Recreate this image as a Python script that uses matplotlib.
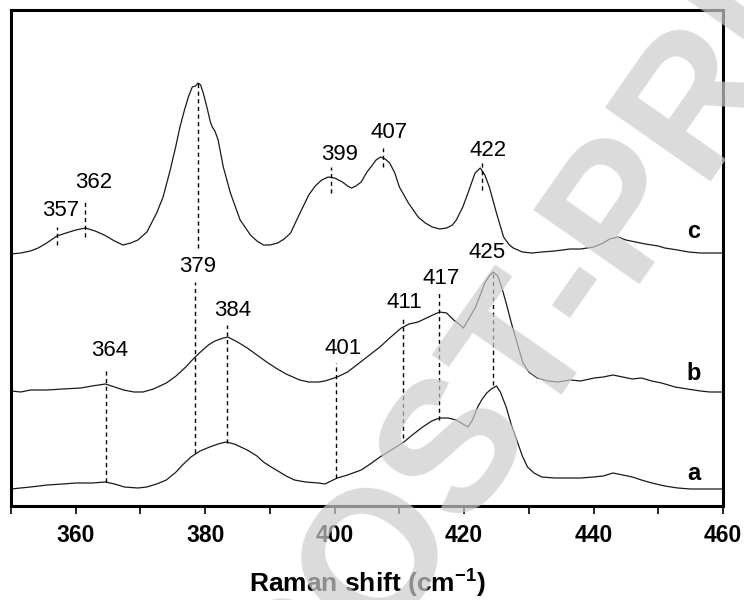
import matplotlib
matplotlib.use('Agg')
import matplotlib.pyplot as plt
from matplotlib.ticker import MultipleLocator

plt.rcParams['font.family'] = ['Liberation Sans', 'DejaVu Sans']
plt.rcParams['mathtext.fontset'] = 'custom'
plt.rcParams['mathtext.rm'] = 'Liberation Sans'
plt.rcParams['mathtext.bf'] = 'Liberation Sans:bold'

# spectrum c (top)
shift_c = [350.0, 351.5, 353.0, 354.2, 355.5, 357.1, 358.5, 360.0, 361.5, 363.0,
           364.4, 366.0, 367.3, 368.5, 369.6, 371.0, 372.5, 373.5, 374.6, 375.4,
           376.1, 376.8, 377.4, 378.0, 378.5, 378.9, 379.3, 379.7, 380.3, 380.8,
           381.1, 381.5, 382.0, 382.8, 383.9, 385.4, 387.0, 388.0, 389.0, 390.0,
           391.2, 392.2, 393.2, 394.5, 396.0, 397.0, 398.0, 399.0, 400.0, 401.2,
           402.0, 402.6, 403.3, 404.1, 405.0, 405.6, 406.4, 407.1, 407.8, 408.5,
           409.3, 410.0, 411.4, 412.9, 414.0, 415.1, 416.2, 417.3, 418.2, 418.8,
           419.8, 420.6, 421.2, 421.7, 422.5, 423.2, 423.9, 425.0, 426.1, 427.0,
           427.6, 429.0, 430.5, 432.0, 434.0, 436.4, 438.0, 440.0, 441.5, 442.5,
           443.8, 445.0, 446.5, 448.0, 450.0, 451.0, 453.0, 454.7, 456.5, 458.0,
           460.0]
int_c = [252, 253, 255, 258, 263, 270, 273, 276, 278, 275,
         271, 265, 261, 263, 266, 274, 293, 309, 336, 358,
         379, 396, 409, 419, 420, 423, 421, 413, 398, 384,
         379, 375, 366, 339, 313, 286, 271, 265, 261, 261,
         263, 267, 273, 291, 311, 320, 326, 329, 328, 324,
         320, 318, 320, 324, 334, 339, 346, 349, 347, 343,
         333, 319, 303, 289, 283, 279, 277, 278, 281, 286,
         299, 313, 324, 333, 338, 331, 319, 293, 269, 261,
         258, 254, 253, 254, 255, 257, 257, 259, 263, 267,
         269, 266, 264, 262, 260, 258, 256, 254, 253, 253,
         253]

# spectrum b (middle)
shift_b = [350.0, 351.5, 353.0, 355.6, 358.0, 360.8, 362.5, 364.6, 366.0, 367.4,
           369.0, 370.4, 372.0, 374.0, 375.5, 377.0, 378.0, 379.1, 380.5, 381.5,
           382.8, 383.5, 385.0, 386.5, 388.0, 389.5, 390.9, 392.5, 394.6, 396.0,
           397.5, 398.5, 400.4, 402.0, 403.4, 405.0, 407.0, 408.5, 410.3, 411.5,
           412.9, 414.5, 416.2, 417.3, 418.4, 419.2, 419.9, 420.8, 421.7, 422.5,
           423.2, 424.0, 424.5, 425.2, 425.8, 426.5, 427.3, 428.2, 429.1, 430.0,
           431.3, 433.0, 434.5, 436.4, 438.0, 440.1, 441.5, 443.0, 444.5, 446.0,
           447.4, 449.0, 450.5, 452.6, 454.5, 456.5, 458.0, 460.0]
int_b = [115, 114, 116, 116, 117, 118, 120, 122, 119, 116,
         114, 114, 117, 123, 130, 139, 146, 153, 161, 165,
         168, 169, 164, 158, 151, 144, 138, 132, 126, 124,
         124, 125, 129, 134, 141, 149, 159, 168, 178, 182,
         184, 189, 194, 193, 186, 182, 178, 188, 198, 211,
         223, 231, 234, 230, 219, 203, 183, 163, 143, 134,
         128, 125, 124, 126, 125, 128, 129, 131, 129, 127,
         128, 125, 123, 119, 117, 115, 114, 114]

# spectrum a (bottom)
shift_a = [350.0, 351.5, 353.0, 355.6, 358.0, 360.0, 362.5, 364.6, 366.0, 367.5,
           369.6, 371.0, 372.5, 374.0, 375.5, 376.5, 377.8, 379.2, 380.7, 382.0,
           383.2, 384.5, 385.5, 386.5, 388.0, 389.0, 390.2, 391.5, 392.5, 393.8,
           395.5, 397.5, 398.5, 400.4, 402.0, 404.1, 405.5, 407.0, 408.5, 410.7,
           412.0, 413.6, 415.0, 416.2, 417.5, 418.8, 419.8, 420.6, 421.3, 422.1,
           422.8, 423.5, 424.2, 425.0, 425.6, 426.5, 427.3, 428.3, 429.0, 429.8,
           430.8, 432.0, 434.0, 436.4, 438.0, 440.0, 441.5, 443.0, 444.5, 446.0,
           447.4, 449.0, 451.0, 453.0, 455.0, 457.0, 460.0]
int_a = [17, 18, 19, 21, 22, 23, 23, 24, 22, 19,
         18, 19, 22, 26, 34, 41, 49, 55, 59, 62,
         64, 62, 59, 56, 50, 44, 39, 34, 30, 26,
         24, 23, 22, 28, 31, 36, 42, 49, 55, 64,
         71, 79, 85, 88, 88, 86, 82, 79, 86, 99,
         107, 113, 117, 120, 114, 99, 81, 63, 50, 39,
         33, 29, 28, 28, 28, 29, 30, 33, 31, 29,
         26, 23, 20, 18, 17, 17, 17]

# peak marks: label, label x, label y, line x, line top, line bottom
peaks = [
    ('357', 357.6, 296, 357.1, 279, 261),
    ('362', 362.8, 324, 361.5, 307, 269),
    ('', 0, 0, 378.9, 423, 258),
    ('399', 400.8, 351, 399.5, 339, 313),
    ('407', 408.4, 373, 407.4, 358, 339),
    ('422', 423.7, 356, 422.7, 343, 316),
    ('379', 378.8, 239, 378.4, 224, 53),
    ('384', 384.3, 196, 383.3, 181, 63),
    ('364', 365.2, 156, 364.6, 136, 24),
    ('401', 401.3, 158, 400.2, 143, 28),
    ('411', 410.7, 203, 410.6, 189, 68),
    ('417', 416.5, 228, 416.2, 214, 86),
    ('425', 423.5, 253, 424.5, 234, 121),
]

series_labels = [('c', 274), ('b', 133), ('a', 32)]


def main():
    fig = plt.figure(figsize=(7.44, 6.0), dpi=100)
    ax = fig.add_axes([11 / 744, 94 / 600, 712 / 744, 496 / 600])

    for x, y in [(shift_c, int_c), (shift_b, int_b), (shift_a, int_a)]:
        ax.plot(x, y, color='#1a1a1a', lw=0.9)

    for text, lx, ly, px, top, bot in peaks:
        ax.plot([px, px], [bot, top], color='black', lw=1.0,
                linestyle=(0, (3, 2.5)))
        if text:
            ax.text(lx, ly, text, ha='center', va='center', fontsize=16)

    for name, y in series_labels:
        ax.text(455.5, y, name, ha='center', va='center', fontsize=17,
                fontweight='bold')

    ax.set_xlim(350, 460)
    ax.set_ylim(0, 496)
    ax.set_yticks([])
    ax.xaxis.set_major_locator(MultipleLocator(20))
    ax.xaxis.set_minor_locator(MultipleLocator(10))
    ax.tick_params(axis='x', which='major', direction='out', length=6,
                   width=1.2, pad=7, labelsize=16.5)
    ax.tick_params(axis='x', which='minor', direction='out', length=6,
                   width=1.2)
    for lab in ax.get_xticklabels():
        lab.set_fontweight('bold')
    for sp in ax.spines.values():
        sp.set_linewidth(2.2)

    ax.set_xlabel(r'Raman shift (cm$^{\mathbf{-1}}$)', fontsize=19,
                  fontweight='bold', labelpad=14)

    # watermark
    fig.text(0.79, 0.575, 'POST-PRINT', fontsize=135, fontweight='bold',
             color='#cccccc', alpha=0.7, rotation=55, ha='center',
             va='center', rotation_mode='anchor', zorder=10)

    fig.savefig('out.png', dpi=100)
    plt.close(fig)


if __name__ == '__main__':
    main()
